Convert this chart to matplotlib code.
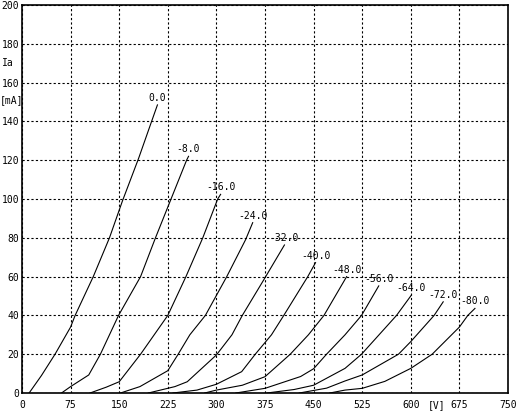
import matplotlib
matplotlib.use("Agg")
import matplotlib.pyplot as plt

# Grid voltages (curve labels)
grid_labels = ["0.0", "-8.0", "-16.0", "-24.0", "-32.0", "-40.0",
               "-48.0", "-56.0", "-64.0", "-72.0", "-80.0"]

# Plate voltage [V] / plate current [mA]
va_0 = [11, 30, 51, 75, 82, 110, 135, 155, 180, 200, 209]
ia_0 = [0, 9, 20, 34, 40, 60, 80, 99, 121, 140, 148.5]

va_8 = [61, 75, 103, 121, 149, 183, 206, 230, 254, 257]
ia_8 = [0, 3.3, 9.3, 20, 40, 60, 80, 100, 120, 122]

va_16 = [105, 130, 150, 183, 225, 253, 279, 302, 306.5]
ia_16 = [0, 3, 5.8, 20, 40, 60, 80, 100, 102.4]

va_24 = [152, 182, 225, 241, 259, 283, 316, 345, 356]
ia_24 = [0, 3.3, 11.5, 20, 30, 40, 60, 79, 87.8]

va_32 = [195, 236, 255, 300, 324, 340, 375, 405]
ia_32 = [0, 3.3, 5.8, 19.6, 30, 40, 59.4, 76.3]

va_40 = [233, 270, 300, 339, 360, 385, 404, 441, 453]
ia_40 = [0, 1.5, 4.5, 11, 20, 30, 40, 60, 67.2]

va_48 = [282, 300, 340, 375, 414, 442, 466, 501]
ia_48 = [0, 1.5, 4, 8.4, 20, 30, 40, 60]

va_56 = [330, 375, 430, 450, 470, 498.5, 524, 550.5]
ia_56 = [0, 2.4, 8.5, 12.5, 20, 30, 40, 55.2]

va_64 = [378, 420, 450, 498.5, 524, 578, 601]
ia_64 = [0, 1.8, 4, 12.7, 20, 40, 50.5]

va_72 = [428, 470, 498.5, 525, 581, 600, 636, 650]
ia_72 = [0, 2.5, 6.2, 9.3, 20, 26.5, 40, 47]

va_80 = [475, 498.5, 525, 560, 600, 633, 675, 688, 699]
ia_80 = [0, 1.5, 2.4, 6, 12.7, 20, 34, 40, 43.6]

curves = [(va_0, ia_0), (va_8, ia_8), (va_16, ia_16), (va_24, ia_24),
          (va_32, ia_32), (va_40, ia_40), (va_48, ia_48), (va_56, ia_56),
          (va_64, ia_64), (va_72, ia_72), (va_80, ia_80)]

x_ticks = [0, 75, 150, 225, 300, 375, 450, 525, 600, 675, 750]
y_ticks = [0, 20, 40, 60, 80, 100, 120, 140, 160, 180, 200]

W, H, DPI = 518, 418, 100
fig = plt.figure(figsize=(W / DPI, H / DPI), dpi=DPI)
fig.patch.set_facecolor("white")
left, right, top, bottom = 22, 508, 5, 393
ax = fig.add_axes([left / W, 1 - bottom / H, (right - left) / W, (bottom - top) / H])

font = dict(family="DejaVu Sans Mono", size=7)

for (v, i), lab in zip(curves, grid_labels):
    ax.plot(v, i, color="black", lw=0.8)
    ax.annotate(lab, xy=(v[-1], i[-1]), xytext=(0, 2), textcoords="offset pixels",
                ha="center", va="bottom", color="black", **font)

ax.set_xlim(0, 750)
ax.set_ylim(0, 200)
ax.set_xticks(x_ticks)
ax.set_yticks(y_ticks)
ax.set_xticklabels([str(t) for t in x_ticks], **font)
ax.set_yticklabels([str(t) for t in y_ticks], **font)
ax.tick_params(axis="both", length=0, colors="black")
ax.tick_params(axis="x", pad=5)
ax.tick_params(axis="y", pad=2)
ax.grid(True, color="black", linestyle=(0, (2, 2)), linewidth=0.8)
ax.set_axisbelow(True)
for s in ax.spines.values():
    s.set_color("black")
    s.set_linewidth(1.2)

# axis unit labels
ax.text(-0.042, 170, "Ia", transform=ax.get_yaxis_transform(), ha="left", va="center", **font)
ax.text(-0.045, 151, "[mA]", transform=ax.get_yaxis_transform(), ha="left", va="center", **font)
ax.annotate("[V]", xy=(640, 0), xytext=(0, -5), textcoords="offset points",
            ha="center", va="top", annotation_clip=False, **font)

fig.savefig("out.png", dpi=DPI, facecolor="white")
